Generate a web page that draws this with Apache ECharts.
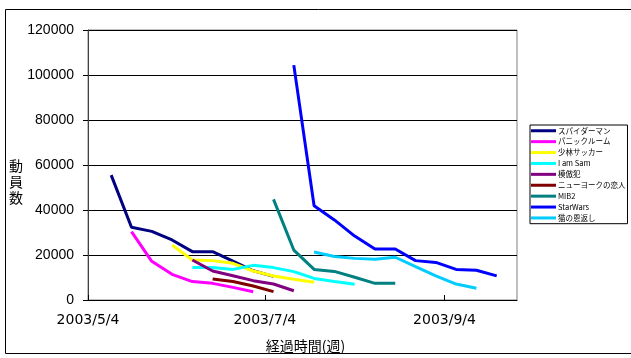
<!DOCTYPE html>
<html>
<head>
<meta charset="utf-8">
<script src="https://cdn.jsdelivr.net/npm/echarts@6/dist/echarts.min.js"></script>
<style>
html,body{margin:0;padding:0;background:#fff;}
#c{width:631px;height:358px;}
</style>
</head>
<body>
<div id="c"></div>
<script>
// Weekly observation dates (x categories)
var weeks = ['2003/5/12','2003/5/19','2003/5/26','2003/6/2','2003/6/9','2003/6/16','2003/6/23','2003/6/30','2003/7/7','2003/7/14','2003/7/21','2003/7/28','2003/8/4','2003/8/11','2003/8/18','2003/8/25','2003/9/1','2003/9/8','2003/9/15','2003/9/22'];
var seriesNames = ['スパイダーマン','パニックルーム','少林サッカー','I am Sam','模倣犯','ニューヨークの恋人','MIB2','StarWars','猫の恩返し'];
var spiderman   = [55500,32300,30500,26700,21500,21500,17300,13000,10500,null,null,null,null,null,null,null,null,null,null,null];
var panicroom   = [null,30400,17200,11400,8200,7400,5600,3700,null,null,null,null,null,null,null,null,null,null,null,null];
var shaolin     = [null,null,null,24400,17800,17500,16300,12900,10700,9200,7900,null,null,null,null,null,null,null,null,null];
var iamsam      = [null,null,null,null,14400,14400,13600,15400,14400,12600,9600,8200,7000,null,null,null,null,null,null,null];
var mohouhan    = [null,null,null,null,17800,12900,10800,8600,7100,4100,null,null,null,null,null,null,null,null,null,null];
var nylovers    = [null,null,null,null,null,9300,8200,6200,3700,null,null,null,null,null,null,null,null,null,null,null];
var mib2        = [null,null,null,null,null,null,null,null,44700,22200,13600,12700,10100,7400,7400,null,null,null,null,null];
var starwars    = [null,null,null,null,null,null,null,null,null,104400,41900,35600,28400,22700,22700,17500,16700,13600,13200,10700];
var nekonoongaeshi = [null,null,null,null,null,null,null,null,null,null,21300,19300,18500,18100,19000,14800,10700,7100,5200,null];
var colors = ['#000080','#FF00FF','#FFFF00','#00FFFF','#800080','#800000','#008080','#0000FF','#00CCFF'];
var yTicks = [0,20000,40000,60000,80000,100000,120000];
var xTickDates = ['2003/5/4','2003/7/4','2003/9/4'];
var xMinDate = '2003/5/4';
var xMaxDate = '2003/9/29';
var yTitle = '動\n員\n数';
var xTitle = '経過時間(週)';

function dayNum(s){ var p=s.split('/'); return Date.UTC(+p[0],+p[1]-1,+p[2])/86400000; }
var base = dayNum(xMinDate);
function dx(s){ return dayNum(s)-base; }
var allData = [spiderman,panicroom,shaolin,iamsam,mohouhan,nylovers,mib2,starwars,nekonoongaeshi];
var tickVals = xTickDates.map(dx);

var series = allData.map(function(arr,i){
  var d=[];
  arr.forEach(function(v,k){ if(v!==null) d.push([dx(weeks[k]),v]); });
  return {name:seriesNames[i],type:'line',data:d,symbol:'none',smooth:false,
    lineStyle:{color:colors[i],width:3},itemStyle:{color:colors[i]},z:10+i};
});

var chart = echarts.init(document.getElementById('c'),null,{renderer:'canvas'});
chart.setOption({
  animation:false,
  textStyle:{fontFamily:'Liberation Sans, Arial, sans-serif'},
  grid:{left:88,top:30,width:429,height:270,show:true,borderColor:'#808080',borderWidth:1,containLabel:false,outerBoundsMode:'none'},
  xAxis:{type:'value',min:0,max:dx(xMaxDate),
    axisLine:{show:true,lineStyle:{color:'#000',width:1}},
    axisTick:{show:true,customValues:tickVals,length:5,inside:true,lineStyle:{color:'#000'}},
    axisLabel:{customValues:tickVals,color:'#000',fontSize:14,margin:13,fontFamily:'DejaVu Sans',
      formatter:function(v){ var i=tickVals.indexOf(v); return i>=0?xTickDates[i]:''; }},
    splitLine:{show:false},
    name:xTitle,nameLocation:'middle',nameGap:39,
    nameTextStyle:{color:'#000',fontSize:14,fontFamily:'Noto Sans CJK JP',padding:[0,0,0,6]}
  },
  yAxis:{type:'value',min:yTicks[0],max:yTicks[yTicks.length-1],interval:20000,
    axisLine:{show:true,lineStyle:{color:'#404040',width:1}},
    axisTick:{show:true,length:5,lineStyle:{color:'#000'}},
    axisLabel:{color:'#000',fontSize:14,margin:14,formatter:function(v){return String(v);}},
    splitLine:{show:true,lineStyle:{color:'#000',width:1}}
  },
  legend:{show:true,orient:'vertical',left:530,top:125,itemWidth:25,itemHeight:3,itemGap:3.4,
    icon:'rect',padding:[2,2,2,1],borderColor:'#000',borderWidth:1,backgroundColor:'#fff',
    textStyle:{fontSize:7.5,color:'#000',fontFamily:'Noto Sans CJK JP',padding:[0,0,0,-3]},
    data:seriesNames},
  graphic:[
    {type:'rect',shape:{x:5.5,y:9.5,width:640,height:344},style:{fill:null,stroke:'#000',lineWidth:1},silent:true,z:-1},
    {type:'text',left:9,top:158,style:{text:yTitle,fontSize:14,lineHeight:16,fill:'#000',fontFamily:'Noto Sans CJK JP'},silent:true}
  ],
  series:series
});
</script>
</body>
</html>
